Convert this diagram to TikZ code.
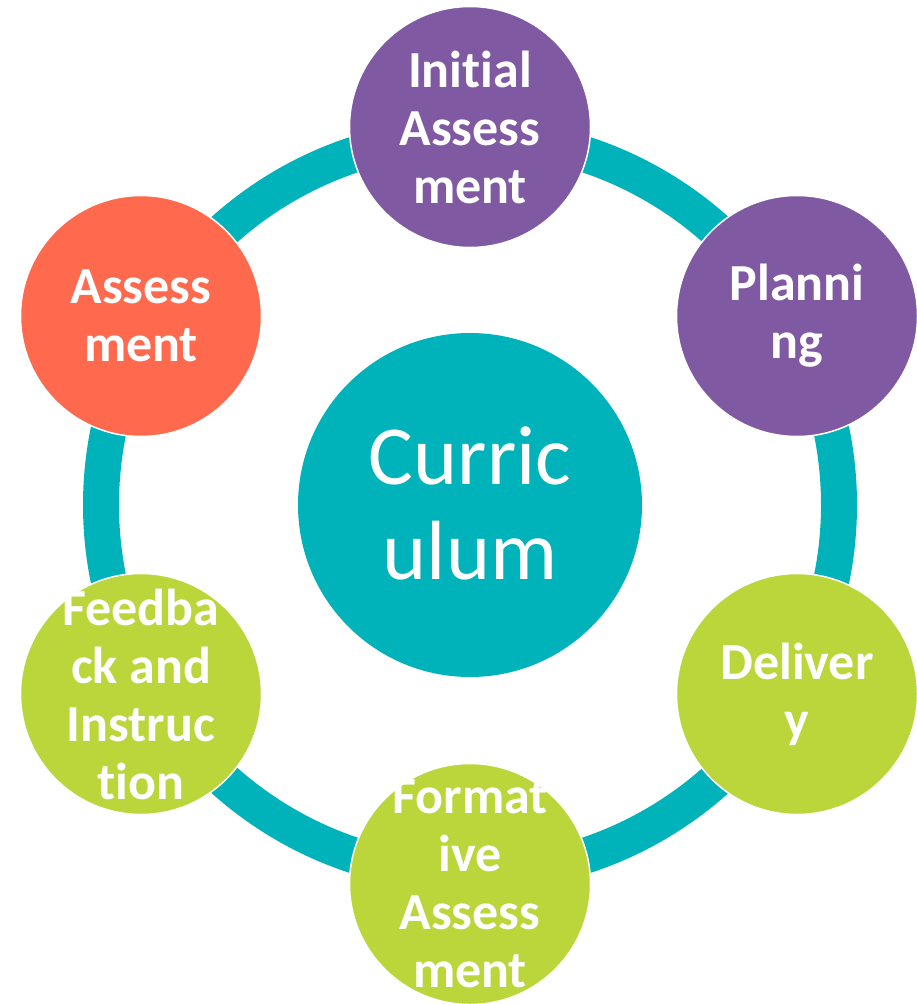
\documentclass[tikz,border=0pt]{standalone}
\usepackage{fontspec}
\setmainfont{Carlito}[Ligatures={CommonOff}]
\definecolor{ringteal}{HTML}{00B3BB}
\definecolor{stagepurple}{HTML}{7F5AA2}
\definecolor{stageorange}{HTML}{FF694D}
\definecolor{stagelime}{HTML}{BBD63A}
\tikzset{
  stagedisc/.style={circle, minimum size=241pt, inner sep=0pt, draw=white, line width=1.5pt},
  stagetext/.style={text=white, font=\fontsize{52}{58}\selectfont\bfseries, align=center, inner sep=0pt},
  hubdisc/.style={circle, minimum size=344pt, inner sep=0pt, fill=ringteal},
  hubtext/.style={text=white, font=\fontsize{84}{95}\selectfont, align=center, inner sep=0pt}
}
\begin{document}
\begin{tikzpicture}[x=1pt, y=-1pt]
  \useasboundingbox (0,0) rectangle (917,1004);
  % the cycle ring behind the stages
  \coordinate (hubc) at (470,505);
  \draw[ringteal, line width=36pt] (hubc) circle [radius=369pt];
  % central hub
  \node[hubdisc] (hub) at (hubc) {};
  \node[hubtext] (hubl) at ([yshift=2pt]hub.center) {Curric\\ulum};
  % stage discs
  \node[stagedisc, fill=stagepurple] (init) at (470,127) {};
  \node[stagedisc, fill=stagepurple] (plan) at (797,316) {};
  \node[stagedisc, fill=stagelime]   (deliv) at (797,694) {};
  \node[stagedisc, fill=stagelime]   (form) at (470,884) {};
  \node[stagedisc, fill=stagelime]   (feed) at (141,694) {};
  \node[stagedisc, fill=stageorange] (assess) at (141,316) {};
  % stage labels
  \node[stagetext] (initl) at (init) {Initial\\Assess\\ment};
  \node[stagetext] (planl) at (plan) {Planni\\ng};
  \node[stagetext] (delivl) at (deliv) {Deliver\\y};
  \node[stagetext] (forml) at (form) {Format\\ive\\Assess\\ment};
  \node[stagetext] (feedl) at (feed) {Feedba\\ck and\\Instruc\\tion};
  \node[stagetext] (assessl) at (assess) {Assess\\ment};
\end{tikzpicture}
\end{document}
